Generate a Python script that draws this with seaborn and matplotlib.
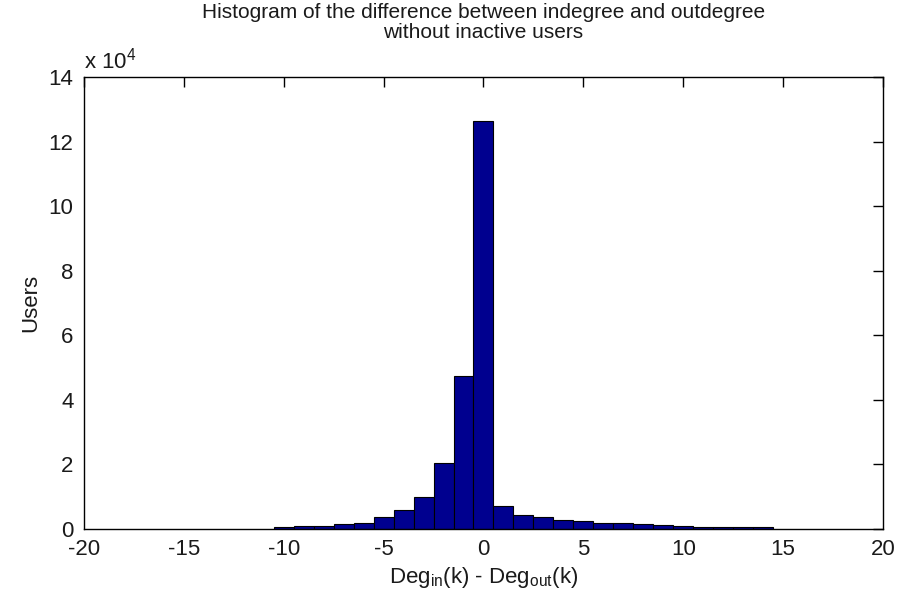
import matplotlib
matplotlib.use("Agg")
import matplotlib.pyplot as plt
import seaborn as sns
import numpy as np

# ── Data ──────────────────────────────────────────────────────────────────────
# bin centres of Deg_in(k) - Deg_out(k), one unit wide
diff_centers = [-10, -9, -8, -7, -6, -5, -4, -3, -2, -1, 0,
                1, 2, 3, 4, 5, 6, 7, 8, 9, 10, 11, 12, 13, 14]
# users per bin
user_counts = [700, 800, 1000, 1450, 2000, 3800, 5900, 10000, 20300, 47500, 126500,
               7100, 4300, 3800, 2700, 2500, 2000, 1800, 1500, 1300, 800, 700, 600, 500, 500]

x_ticks = [-20, -15, -10, -5, 0, 5, 10, 15, 20]
y_ticks = [0, 2, 4, 6, 8, 10, 12, 14]   # in units of 1e4

# ── Style ─────────────────────────────────────────────────────────────────────
sns.set_style("white")
plt.rcParams["font.family"] = ["Liberation Sans", "DejaVu Sans"]
plt.rcParams["mathtext.fontset"] = "custom"
plt.rcParams["mathtext.rm"] = "Liberation Sans"
plt.rcParams["mathtext.it"] = "Liberation Sans"
plt.rcParams["text.color"] = "#1a1a1a"
plt.rcParams["axes.labelcolor"] = "#1a1a1a"

FS = 16

fig = plt.figure(figsize=(8.98, 5.99), dpi=100)
ax = fig.add_axes([0.0935, 0.1169, 0.8898, 0.7546])

sns.histplot(
    x=diff_centers,
    weights=user_counts,
    discrete=True,
    color="#00008F",
    edgecolor="black",
    linewidth=0.8,
    alpha=1,
    ax=ax,
)

ax.set_xlim(-20, 20)
ax.set_ylim(0, 14e4)
ax.set_xticks(x_ticks)
ax.set_xticklabels([str(t) for t in x_ticks])
ax.set_yticks([t * 1e4 for t in y_ticks])
ax.set_yticklabels([str(t) for t in y_ticks])

ax.tick_params(direction="in", length=7, width=1, top=True, right=True,
               labelsize=FS, colors="black", labelcolor="#1a1a1a")
ax.tick_params(axis="x", pad=7.5)
ax.tick_params(axis="y", pad=7.5)
for sp in ax.spines.values():
    sp.set_visible(True)
    sp.set_color("black")
    sp.set_linewidth(1)

ax.text(0.0, 1.008, r"x 10$^{4}$", transform=ax.transAxes,
        fontsize=FS, ha="left", va="bottom")

# title sits tight against the top edge, as in the reference
fig.text(0.5385, 0.995, "Histogram of the difference between indegree and outdegree\n"
         "without inactive users", fontsize=15, ha="center", va="top",
         linespacing=1.1)
ax.set_ylabel("Users", fontsize=FS, labelpad=5)
ax.set_xlabel(r"Deg$_{in}$(k) - Deg$_{out}$(k)", fontsize=FS, labelpad=3)

fig.savefig("out.png", dpi=100)
